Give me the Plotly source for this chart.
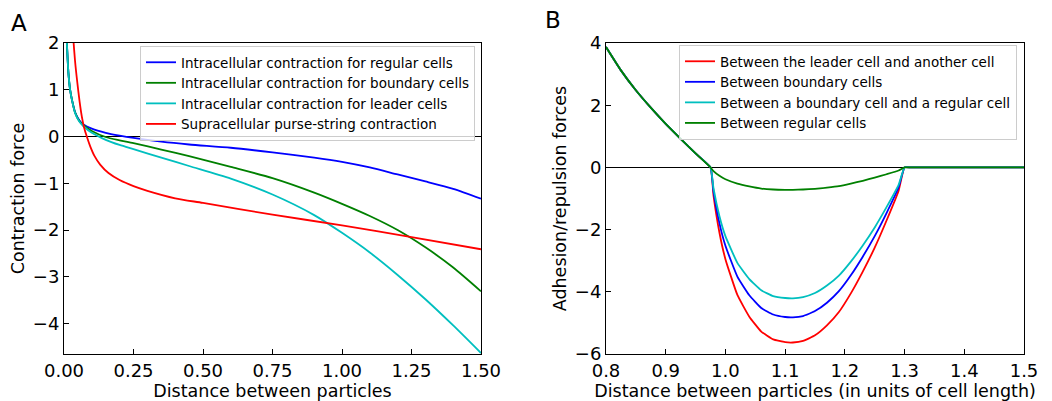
import plotly.graph_objects as go

# panel A: contraction force vs distance
x_cells = [0.01, 0.016, 0.022, 0.03, 0.04, 0.055, 0.07, 0.1, 0.15, 0.2, 0.25, 0.35, 0.45,
           0.6, 0.75, 0.9, 1.0, 1.1, 1.2, 1.3, 1.4, 1.5]
regular_cells = [2.05, 1.35, 1.0, 0.75, 0.52, 0.35, 0.26, 0.17, 0.08, 0.02, -0.03, -0.11, -0.17,
                 -0.24, -0.34, -0.45, -0.54, -0.66, -0.81, -0.96, -1.12, -1.33]
boundary_cells = [2.05, 1.35, 1.0, 0.75, 0.51, 0.33, 0.24, 0.12, -0.01, -0.08, -0.14, -0.28, -0.42,
                  -0.65, -0.89, -1.20, -1.44, -1.70, -2.00, -2.37, -2.80, -3.31]
leader_cells = [2.05, 1.35, 1.0, 0.74, 0.5, 0.32, 0.22, 0.08, -0.07, -0.18, -0.27, -0.45, -0.63,
                -0.90, -1.24, -1.68, -2.06, -2.48, -2.96, -3.48, -4.04, -4.63]
x_purse = [0.034, 0.04, 0.048, 0.056, 0.064, 0.072, 0.082, 0.095, 0.11, 0.13, 0.16, 0.2, 0.25,
           0.3, 0.4, 0.5, 0.75, 1.0, 1.25, 1.5]
purse_string = [2.05, 1.6, 1.15, 0.75, 0.43, 0.2, 0.0, -0.22, -0.42, -0.6, -0.78, -0.93, -1.06,
                -1.16, -1.32, -1.42, -1.67, -1.90, -2.15, -2.41]

# panel B: adhesion/repulsion forces
x_pair = [0.8, 0.825, 0.85, 0.875, 0.9, 0.925, 0.95, 0.975, 0.98, 0.99, 1.0, 1.02, 1.04, 1.06,
          1.08, 1.1, 1.113, 1.13, 1.15, 1.17, 1.19, 1.21, 1.23, 1.25, 1.27, 1.29, 1.3, 1.31, 1.32,
          1.4, 1.5]
repulsion = [3.87, 3.12, 2.48, 1.92, 1.40, 0.92, 0.45, 0.0]
tail = [0.0, 0.0, 0.0, 0.0, 0.0]
leader_other = repulsion + [-0.9, -2.1, -2.95, -4.1, -4.8, -5.28, -5.53, -5.62, -5.63, -5.58, -5.40,
                            -5.08, -4.65, -4.05, -3.35, -2.58, -1.7, -0.75] + tail
boundary_boundary = repulsion + [-0.77, -1.8, -2.52, -3.51, -4.11, -4.52, -4.73, -4.81, -4.82, -4.78,
                                 -4.62, -4.35, -3.98, -3.47, -2.87, -2.21, -1.46, -0.64] + tail
boundary_regular = repulsion + [-0.67, -1.57, -2.21, -3.07, -3.59, -3.95, -4.14, -4.20, -4.21, -4.17,
                                -4.04, -3.80, -3.48, -3.03, -2.51, -1.93, -1.27, -0.56] + tail
regular_regular = repulsion + [-0.12, -0.27, -0.38, -0.52, -0.61, -0.68, -0.71, -0.72, -0.72, -0.71,
                               -0.69, -0.65, -0.60, -0.52, -0.43, -0.33, -0.22, -0.10] + tail

W, H = 1052, 401
font = "DejaVu Sans"
lw = 1.8

fig = go.Figure()

left = [
    (x_cells, regular_cells, "Intracellular contraction for regular cells", "#0000ff"),
    (x_cells, boundary_cells, "Intracellular contraction for boundary cells", "#008000"),
    (x_cells, leader_cells, "Intracellular contraction for leader cells", "#00bfbf"),
    (x_purse, purse_string, "Supracellular purse-string contraction", "#ff0000"),
]
for xs, ys, name, col in left:
    fig.add_trace(go.Scatter(x=xs, y=ys, name=name, mode="lines",
                             line=dict(color=col, width=lw, shape="spline", smoothing=0.7),
                             xaxis="x", yaxis="y", legend="legend"))

right = [
    (leader_other, "Between the leader cell and another cell", "#ff0000"),
    (boundary_boundary, "Between boundary cells", "#0000ff"),
    (boundary_regular, "Between a boundary cell and a regular cell", "#00bfbf"),
    (regular_regular, "Between regular cells", "#008000"),
]
for ys, name, col in right:
    fig.add_trace(go.Scatter(x=x_pair, y=ys, name=name, mode="lines",
                             line=dict(color=col, width=lw, shape="spline", smoothing=0.4),
                             xaxis="x2", yaxis="y2", legend="legend2"))

axis_common = dict(showline=True, linecolor="black", linewidth=1, mirror=True,
                   ticks="inside", ticklen=5, tickcolor="black", tickwidth=1,
                   showgrid=False, automargin=False,
                   tickfont=dict(family=font, size=18, color="black"))

ydom = [47 / H, 1 - 43 / H]
legend_common = dict(bgcolor="rgba(255,255,255,0.8)", bordercolor="#cccccc", borderwidth=1,
                     font=dict(family=font, size=13.5, color="black"),
                     xanchor="left", yanchor="top", tracegroupgap=0, itemwidth=30)
title_font = dict(family=font, size=17.5, color="black")

fig.update_layout(
    width=W, height=H,
    margin=dict(l=0, r=0, t=0, b=0, autoexpand=False),
    paper_bgcolor="white", plot_bgcolor="white",
    showlegend=True,
    xaxis=dict(domain=[64 / W, 481 / W], range=[0, 1.5], dtick=0.25, tickformat=".2f",
               zeroline=False, anchor="y",
               title=dict(text="Distance between particles", standoff=4, font=title_font),
               **axis_common),
    yaxis=dict(domain=ydom, range=[-4.65, 2], dtick=1, anchor="x",
               zeroline=True, zerolinecolor="black", zerolinewidth=1,
               title=dict(text="Contraction force", standoff=3, font=title_font),
               **axis_common),
    xaxis2=dict(domain=[606 / W, 1024 / W], range=[0.8, 1.5], dtick=0.1, tickformat=".1f",
                zeroline=False, anchor="y2",
                title=dict(text="Distance between particles (in units of cell length)", standoff=4,
                           font=title_font),
                **axis_common),
    yaxis2=dict(domain=ydom, range=[-6, 4], dtick=2, anchor="x2",
                zeroline=True, zerolinecolor="black", zerolinewidth=1,
                title=dict(text="Adhesion/repulsion forces", standoff=3, font=title_font),
                **axis_common),
    legend=dict(x=140 / W, y=1 - 46 / H, **legend_common),
    legend2=dict(x=679 / W, y=1 - 45 / H, **legend_common),
    annotations=[
        dict(text="A", x=9 / W, y=1 - 8 / H, xref="paper", yref="paper", showarrow=False,
             xanchor="left", yanchor="top", font=dict(family=font, size=23, color="black")),
        dict(text="B", x=543 / W, y=1 - 5 / H, xref="paper", yref="paper", showarrow=False,
             xanchor="left", yanchor="top", font=dict(family=font, size=23, color="black")),
    ],
)

# drop the default page margin so the figure sits at the window's top-left corner
fig.write_html("out.html", config={"displayModeBar": False},
               post_script="document.body.style.margin='0';")
